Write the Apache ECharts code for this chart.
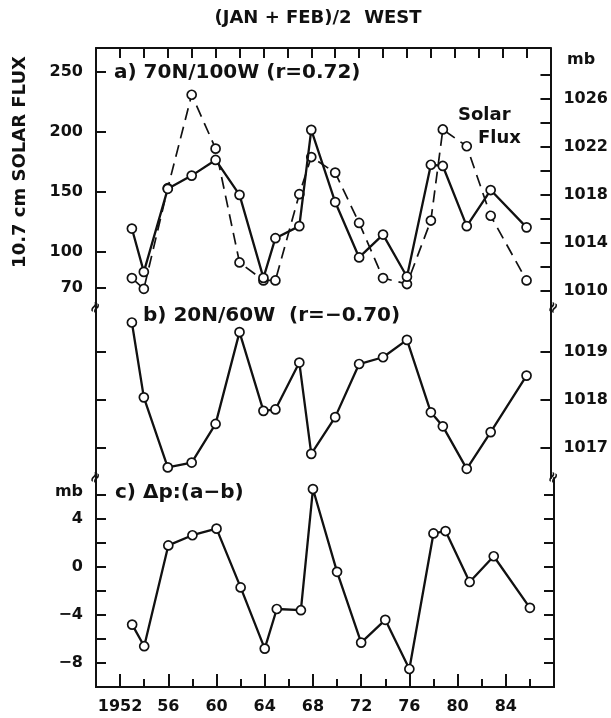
<!DOCTYPE html>
<html>
<head>
<meta charset="utf-8">
<script src="https://cdn.jsdelivr.net/npm/echarts@6/dist/echarts.min.js"></script>
<style>
  html, body { margin: 0; padding: 0; background: #fff; }
  #chart { width: 611px; height: 718px; }
</style>
</head>
<body>
<div id="chart"></div>
<script>
// winters (west phase) shown in the figure
const years = [1953, 1954, 1956, 1958, 1960, 1962, 1964, 1965, 1967, 1968,
               1970, 1972, 1974, 1976, 1978, 1979, 1981, 1983, 1986];
// 10.7 cm solar flux, left scale of panel a (dashed)
const solarFlux = [78, 69, 153, 231, 186, 91, 76, 76, 148, 179,
                   166, 124, 78, 73, 126, 202, 188, 130, 76];
// a) 70N/100W, mb
const pressA = [1015.2, 1011.6, 1018.5, 1019.6, 1020.9, 1018.0, 1011.1, 1014.4, 1015.4, 1023.4,
                1017.4, 1012.8, 1014.7, 1011.2, 1020.5, 1020.4, 1015.4, 1018.4, 1015.3];
// b) 20N/60W, mb
const pressB = [1019.6, 1018.05, 1016.6, 1016.7, 1017.5, 1019.4, 1017.77, 1017.8, 1018.77, 1016.88,
                1017.64, 1018.74, 1018.88, 1019.24, 1017.74, 1017.45, 1016.57, 1017.33, 1018.5];
// c) delta p = a - b, mb
const deltaP = [-4.8, -6.6, 1.8, 2.65, 3.2, -1.7, -6.8, -3.5, -3.6, 6.5,
                -0.4, -6.3, -4.4, -8.5, 2.8, 3.0, -1.25, 0.9, -3.4];

// tick marks and labels
const fluxTicks = [70, 100, 150, 200, 250];
const mbTicksA = [1010, 1012, 1014, 1016, 1018, 1020, 1022, 1024, 1026, 1028];
const mbLabelsA = [1010, 1014, 1018, 1022, 1026];
const mbTicksB = [1017, 1018, 1019];
const dpTicks = [-8, -6, -4, -2, 0, 2, 4, 6];
const dpLabels = [-8, -4, 0, 4];
const yearTicks = [1952, 1954, 1956, 1958, 1960, 1962, 1964, 1966, 1968, 1970,
                   1972, 1974, 1976, 1978, 1980, 1982, 1984, 1986];
const yearLabels = [1952, 1956, 1960, 1964, 1968, 1972, 1976, 1980, 1984];

// layout (px)
const L = 96, R = 554, T = 48, B1 = 308, B2 = 478, B = 687;
const INK = '#111';
const FONT = 'DejaVu Sans';

const pairs = (ys) => years.map((y, i) => [y, ys[i]]);

const xBase = {
    type: 'value', min: 1950, max: 1988,
    splitLine: { show: false },
    axisLine: { onZero: false, lineStyle: { color: INK, width: 2 } }
};

const yAxisOf = (grid, pos, min, max, ticks, labels, fmt) => ({
    type: 'value', gridIndex: grid, position: pos, min: min, max: max,
    splitLine: { show: false },
    axisLine: { show: true, onZero: false, lineStyle: { color: INK, width: 2 } },
    axisTick: { show: true, inside: true, length: 10, customValues: ticks, lineStyle: { color: INK, width: 2 } },
    axisLabel: labels ? {
        show: true, customValues: labels, margin: 13, color: INK,
        fontFamily: FONT, fontWeight: 'bold', fontSize: 16, formatter: fmt || (v => String(v))
    } : { show: false }
});

const lineSeries = (xi, yi, data, dashed) => ({
    type: 'line', xAxisIndex: xi, yAxisIndex: yi, data: data,
    symbol: 'circle', symbolSize: 9,
    itemStyle: { color: '#fff', borderColor: INK, borderWidth: 1.7 },
    lineStyle: { color: INK, width: dashed ? 1.7 : 2.3, type: dashed ? [12, 7] : 'solid' },
    z: dashed ? 2 : 3
});

const txt = (text, x, y, size, align, extra) => Object.assign({
    type: 'text', x: x, y: y,
    style: { text: text, fill: INK, font: 'bold ' + size + 'px "' + FONT + '"', align: align || 'left', verticalAlign: 'middle' }
}, extra || {});

const brk = (x, y) => txt('≈', x, y, 15, 'center', { rotation: 1.1, z: 10 });

const initChart = () => {
    const myChart = echarts.init(document.getElementById('chart'));
    myChart.setOption({
        animation: false,
        backgroundColor: '#fff',
        grid: [
            { left: L, top: T, width: R - L, height: B1 - T },
            { left: L, top: B1, width: R - L, height: B2 - B1 },
            { left: L, top: B2, width: R - L, height: B - B2 }
        ],
        xAxis: [
            Object.assign({}, xBase, {
                gridIndex: 0, position: 'top',
                axisTick: { inside: true, length: 10, customValues: yearTicks, lineStyle: { color: INK, width: 2 } },
                axisLabel: { show: false }
            }),
            Object.assign({}, xBase, { gridIndex: 1, show: false }),
            Object.assign({}, xBase, {
                gridIndex: 2, position: 'bottom',
                axisTick: { inside: true, length: 8, customValues: yearTicks, lineStyle: { color: INK, width: 2 } },
                axisLabel: { show: false }
            }),
            Object.assign({}, xBase, {
                gridIndex: 2, position: 'bottom',
                axisTick: { inside: true, length: 13, customValues: yearLabels, lineStyle: { color: INK, width: 2 } },
                axisLabel: {
                    customValues: yearLabels, margin: 12, color: INK, fontFamily: FONT, fontWeight: 'bold', fontSize: 16,
                    formatter: v => v === 1952 ? '1952' : String(v % 100)
                }
            })
        ],
        yAxis: [
            yAxisOf(0, 'left', 53, 270, fluxTicks, fluxTicks),
            yAxisOf(0, 'right', 1008.6, 1030.2, mbTicksA, mbLabelsA),
            yAxisOf(1, 'left', 1016.38, 1019.9, mbTicksB, null),
            yAxisOf(1, 'right', 1016.38, 1019.9, mbTicksB, mbTicksB),
            yAxisOf(2, 'left', -10, 7.42, dpTicks, dpLabels, v => v < 0 ? '\u2212' + (-v) : String(v)),
            yAxisOf(2, 'right', -10, 7.42, dpTicks, null)
        ],
        series: [
            lineSeries(0, 0, pairs(solarFlux), true),
            lineSeries(0, 1, pairs(pressA), false),
            lineSeries(1, 3, pairs(pressB), false),
            lineSeries(2, 4, pairs(deltaP), false)
        ],
        graphic: [
            txt('(JAN + FEB)/2  WEST', 318, 18, 18, 'center'),
            txt('10.7 cm SOLAR FLUX', 20, 162, 18, 'center', { rotation: Math.PI / 2 }),
            txt('a) 70N/100W (r=0.72)', 114, 73, 20),
            txt('Solar', 458, 115, 18),
            txt('Flux', 478, 138, 18),
            txt('b) 20N/60W  (r=\u22120.70)', 143, 316, 20),
            txt('c) \u0394p:(a\u2212b)', 115, 493, 20),
            txt('mb', 83, 492, 16, 'right'),
            txt('mb', 567, 60, 16),
            brk(L, B1), brk(R, B1), brk(L, B2), brk(R, B2)
        ]
    });
    myChart.resize();
};

window.addEventListener('load', initChart);
</script>
</body>
</html>
